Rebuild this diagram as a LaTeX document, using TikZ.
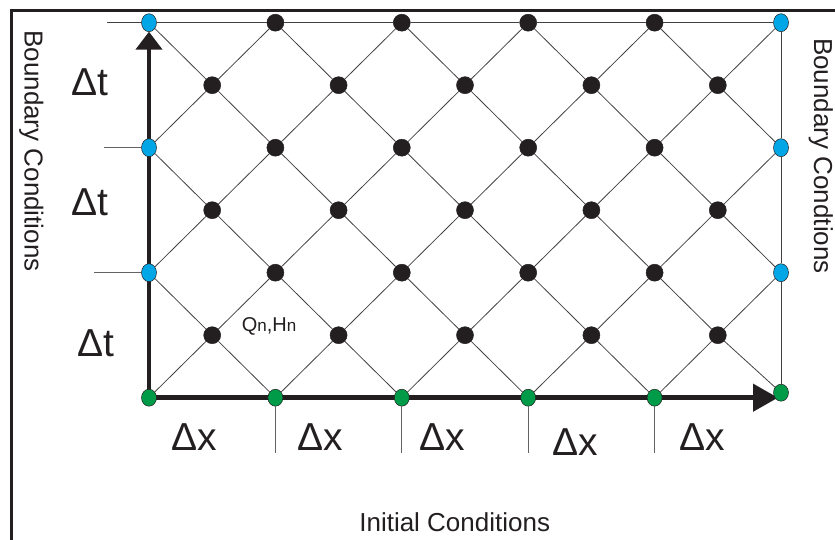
\documentclass[tikz,border=0pt]{standalone}
\usepackage{fontspec}
\setmainfont{Liberation Sans}
\usetikzlibrary{arrows.meta,shapes.geometric,backgrounds}
\definecolor{inkdark}{RGB}{35,31,32}
\definecolor{bcblue}{RGB}{0,166,230}
\definecolor{icgreen}{RGB}{0,155,72}

\begin{document}
\begin{tikzpicture}[x=1pt, y=-1pt,
    lattice/.style={line width=0.8pt, draw=inkdark!85},
    tick/.style={line width=0.8pt, draw=inkdark!70},
    axis/.style={line width=4.5pt, draw=inkdark},
    latdot/.style={circle, fill=inkdark, draw=inkdark, line width=0.5pt, inner sep=0pt, minimum size=17pt},
    bcdot/.style={ellipse, fill=bcblue, draw=inkdark, line width=0.5pt, inner sep=0pt, minimum width=15pt, minimum height=18pt},
    icdot/.style={ellipse, fill=icgreen, draw=inkdark, line width=0.5pt, inner sep=0pt, minimum width=15pt, minimum height=17pt},
    dlabel/.style={inner sep=0pt, anchor=base, text=inkdark, font=\fontsize{39}{39}\selectfont},
    bclabel/.style={inner sep=0pt, anchor=base, text=inkdark, font=\fontsize{26}{26}\selectfont}]
    \useasboundingbox (0,0) rectangle (835,540);

    % frame (only top and left edges show)
    \draw[line width=3pt, inkdark] (11.5,545) -- (11.5,11) -- (840,11);

    % grid points: i across (dx/2), j up (dt/2)
    \foreach \i in {0,...,10}
        \foreach \j in {0,...,6} {
            \pgfmathtruncatemacro\odd{mod(\i+\j,2)}
            \ifnum\odd=0
                \ifnum\j=0
                    \pgfmathsetmacro\lift{\i==10 ? 5 : 0}
                    \node[icdot, yshift=\lift pt] (n\i-\j) at ({149+63.2*\i},397.7) {};
                \else
                    \ifnum\i=0
                        \node[bcdot] (n\i-\j) at ({149+63.2*\i},{397.7-62.5*\j}) {};
                    \else\ifnum\i=10
                        \node[bcdot] (n\i-\j) at ({149+63.2*\i},{397.7-62.5*\j}) {};
                    \else
                        \node[latdot] (n\i-\j) at ({149+63.2*\i},{397.7-62.5*\j}) {};
                    \fi\fi
                \fi
            \fi
        }

    % diagonal characteristics
    \foreach \i in {0,...,9}
        \foreach \j in {0,...,6} {
            \pgfmathtruncatemacro\odd{mod(\i+\j,2)}
            \pgfmathtruncatemacro\ni{\i+1}
            \pgfmathtruncatemacro\up{\j+1}
            \pgfmathtruncatemacro\dn{\j-1}
            \ifnum\odd=0
                \ifnum\j<6 \draw[lattice] (n\i-\j) -- (n\ni-\up); \fi
                \ifnum\j>0 \draw[lattice] (n\i-\j) -- (n\ni-\dn); \fi
            \fi
        }

    % top edge, right edge and ticks
    \coordinate (tt6) at (107,22.7);
    \coordinate (tt4) at (104,147.7);
    \coordinate (tt2) at (94,272.7);
    \draw[lattice] (tt6) -- (n0-6) -- (n2-6) -- (n4-6) -- (n6-6) -- (n8-6) -- (n10-6)
        -- (n10-4) -- (n10-2) -- (n10-0);
    \draw[tick] (tt4) -- (n0-4);
    \draw[tick] (tt2) -- (n0-2);
    \foreach \i in {2,4,6,8}
        \draw[tick] (n\i-0.south) -- ++(0,47);

    % axes behind the points
    \coordinate (ttip) at (149,31.7);
    \coordinate (xtip) at (778,397.7);
    \begin{scope}[on background layer]
        \draw[axis, -{Triangle[length=18pt, width=26pt]}] (n0-0.center) -- (ttip);
        \draw[axis, -{Triangle[length=25pt, width=27pt]}] (n0-0.center) -- (xtip);
    \end{scope}

    % labels
    \node[dlabel] (dt1) at (89.5,95.7) {Δt};
    \node[dlabel] (dt2) at (89.5,215) {Δt};
    \node[dlabel] (dt3) at (96,356) {Δt};
    \node[dlabel] (dx1) at (194,450) {Δx};
    \node[dlabel] (dx2) at (320.6,450) {Δx};
    \node[dlabel] (dx3) at (442,450) {Δx};
    \node[dlabel] (dx4) at (575,455) {Δx};
    \node[dlabel] (dx5) at (702,450) {Δx};
    \node[anchor=base, inner sep=0pt, text=inkdark, font=\fontsize{20}{20}\selectfont] (qh)
        at (269,331.7) {Q{\fontsize{17}{17}\selectfont n},H{\fontsize{17}{17}\selectfont n}};
    \node[bclabel] (ic) at (454.7,531.7) {Initial Conditions};
    \node[bclabel, rotate=-90] (bcl) at (24.5,151) {Boundary Conditions};
    \node[bclabel, rotate=-90] (bcr) at (814,156) {Boundary Condtions};
\end{tikzpicture}
\end{document}
